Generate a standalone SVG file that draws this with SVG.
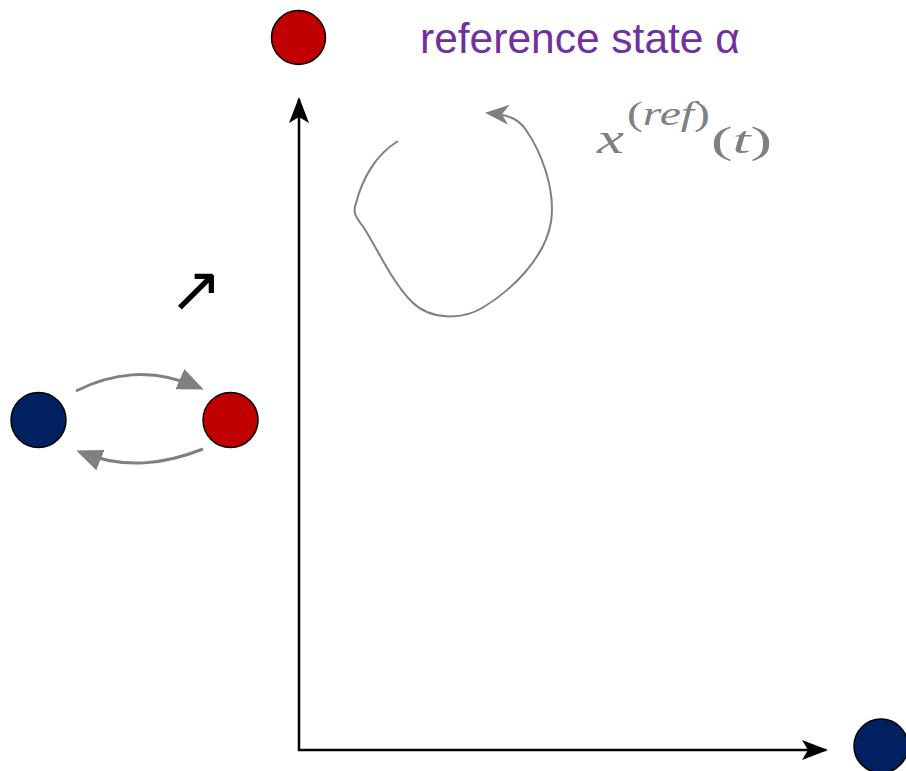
<svg xmlns="http://www.w3.org/2000/svg" width="906" height="771" viewBox="0 0 906 771">
<style>
.red{fill:#C00000;stroke:#000;stroke-width:1.5}
.blue{fill:#002060;stroke:#000;stroke-width:1.5}
.axis{stroke:#000;stroke-width:2.5;fill:none}
.garc{stroke:#808080;stroke-width:3;fill:none}
.cyc{stroke:#808080;stroke-width:2;fill:none}
</style>
<defs>
<marker id="ah" viewBox="0 0 26 20" refX="24" refY="10" markerWidth="26" markerHeight="20" markerUnits="userSpaceOnUse" orient="auto">
<path d="M0,0 L26,10 L0,20 L6,10 Z" fill="#000"/>
</marker>
<marker id="gh" viewBox="0 0 26 22" refX="22" refY="11" markerWidth="26" markerHeight="22" markerUnits="userSpaceOnUse" orient="auto">
<path d="M0,0 L26,11 L0,22 Z" fill="#808080"/>
</marker>
<marker id="ch" viewBox="0 0 24 20" refX="20" refY="10" markerWidth="24" markerHeight="20" markerUnits="userSpaceOnUse" orient="auto">
<path d="M0,0 L24,10 L0,20 L7,10 Z" fill="#808080"/>
</marker>
</defs>
<g id="connectors">
<path class="axis" d="M299,751 L299,99" marker-end="url(#ah)"/>
<path class="axis" d="M298,750 L826,750" marker-end="url(#ah)"/>
<path class="garc" d="M76,391 C110,374 150,366 200,388" marker-end="url(#gh)"/>
<path class="garc" d="M203,449 C165,464 125,470 80,452" marker-end="url(#gh)"/>
<path class="cyc" d="M398,141 C375,155 362,180 356,203 C352,214 357,218 364,228 C378,250 392,282 412,302 C430,320 462,320 482,308 C512,290 545,258 551,222 C556,188 540,150 526,130 C519,120 511,115 489,113" marker-end="url(#ch)"/>
</g>
<g id="node-ref">
<circle class="red" cx="298.5" cy="37.5" r="27"/>
</g>
<g id="label-ref">
<text x="420" y="53" font-family="Liberation Sans, Arial, sans-serif" font-size="42.5" fill="#7030A0">reference state α</text>
</g>
<g id="label-xref">
<text font-family="Liberation Serif, Times New Roman, serif" font-style="italic" fill="#808080"><tspan x="597" y="153" font-size="44" textLength="27" lengthAdjust="spacingAndGlyphs">x</tspan><tspan x="627" y="125" font-size="34" font-style="normal" textLength="83" lengthAdjust="spacingAndGlyphs">(<tspan font-style="italic">ref</tspan>)</tspan><tspan x="711" y="153" font-size="37" font-style="normal" textLength="61" lengthAdjust="spacingAndGlyphs">(<tspan font-style="italic">t</tspan>)</tspan></text>
</g>
<g id="node-blue-left">
<circle class="blue" cx="38.5" cy="420" r="27.5"/>
</g>
<g id="node-red-left">
<circle class="red" cx="230.5" cy="420" r="27.5"/>
</g>
<g id="node-blue-right">
<circle class="blue" cx="881" cy="746" r="27"/>
</g>
<g id="arrow-symbol">
<text x="169" y="311" font-family="DejaVu Sans, sans-serif" font-size="64" fill="#000">↗</text>
</g>
</svg>
